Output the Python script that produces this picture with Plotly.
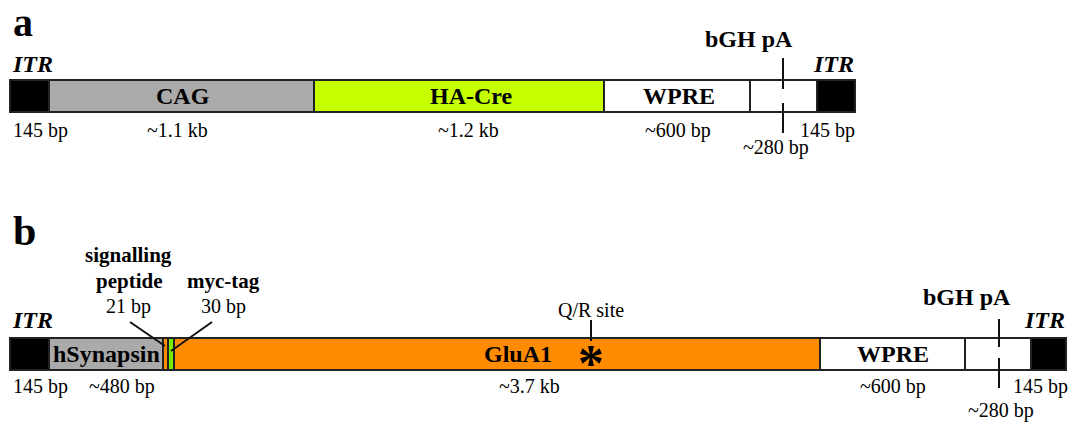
import numpy as np
import plotly.graph_objects as go

# ---------------- data ----------------
# Panel a: AAV-CAG-HA-Cre construct (segment display lengths, arbitrary units)
a_names = ["ITR", "CAG", "HA-Cre", "WPRE", "bGH pA", "ITR"]
a_lengths = [39, 265, 290, 146, 67, 38]
a_sizes = ["145 bp", "~1.1 kb", "~1.2 kb", "~600 bp", "~280 bp", "145 bp"]

# Panel b: AAV-hSynapsin-GluA1 construct
b_names = ["ITR", "hSynapsin", "signalling peptide", "myc-tag", "GluA1", "WPRE", "bGH pA", "ITR"]
b_lengths = [39, 114, 5, 6, 646, 145, 66, 35]
b_sizes = ["145 bp", "~480 bp", "21 bp", "30 bp", "~3.7 kb", "~600 bp", "~280 bp", "145 bp"]

# ---------------- styles ----------------
a_colors = ["#000000", "#aaaaaa", "#c6ff00", "#ffffff", "#ffffff", "#000000"]
b_colors = ["#000000", "#aaaaaa", "#ff8c00", "#77ee00", "#ff8c00", "#ffffff", "#ffffff", "#000000"]
FONT = "Liberation Serif"
X0 = 10
A_Y, B_Y, BAR_H = 96, 354, 32

fig = go.Figure()

def add_bars(lengths, colors, yc):
    starts = X0 + np.concatenate([[0], np.cumsum(lengths)[:-1]])
    fig.add_trace(go.Bar(
        orientation="h", base=starts, x=lengths, y=[yc] * len(lengths),
        width=[BAR_H] * len(lengths),
        marker=dict(color=colors, line=dict(color="#222222", width=2)),
        hoverinfo="skip", showlegend=False))
    return starts

a_starts = add_bars(a_lengths, a_colors, A_Y)
b_starts = add_bars(b_lengths, b_colors, B_Y)

def seg(x, y, w=2):
    fig.add_trace(go.Scatter(x=x, y=y, mode="lines",
                             line=dict(color="#111111", width=w),
                             hoverinfo="skip", showlegend=False))

# bGH pA marker lines (with gap)
seg([783, 783], [58, 89]); seg([783, 783], [103, 133])
seg([999, 999], [319, 347]); seg([999, 999], [358, 388])
# Q/R site
seg([591, 591], [320, 341])
# callouts
seg([130, 165], [322, 346]); seg([212, 171], [322, 351])

def txt(x, y, s, size=20, bold=False, italic=False, xa="center", yshift=0):
    fig.add_annotation(x=x, y=y, text=s, showarrow=False, xanchor=xa, yanchor="middle",
                       yshift=yshift,
                       font=dict(family=FONT, size=size, color="#000000",
                                 weight="bold" if bold else "normal",
                                 style="italic" if italic else "normal"))

# panel a
txt(11, 22, "a", size=40, bold=True, xa="left")
txt(10, 64, "ITR", size=24, bold=True, italic=True, xa="left")
txt(856, 64, "ITR", size=24, bold=True, italic=True, xa="right")
txt(749, 39, "bGH pA", size=24, bold=True)
txt(183, A_Y, a_names[1], size=24, bold=True)
txt(471, A_Y, a_names[2], size=24, bold=True)
txt(679, A_Y, a_names[3], size=24, bold=True)
txt(40, 130, a_sizes[0]); txt(177, 130, a_sizes[1]); txt(468, 130, a_sizes[2])
txt(678, 130, a_sizes[3]); txt(776, 147, a_sizes[4]); txt(827, 130, a_sizes[5])

# panel b
txt(11, 231, "b", size=42, bold=True, xa="left")
txt(10, 320, "ITR", size=24, bold=True, italic=True, xa="left")
txt(1067, 320, "ITR", size=24, bold=True, italic=True, xa="right")
txt(967, 297, "bGH pA", size=24, bold=True)
txt(128, 255, "signalling", size=21, bold=True)
txt(129, 281, "peptide", size=21, bold=True)
txt(128, 306, b_sizes[2])
txt(223, 281, b_names[3], size=21, bold=True)
txt(223, 306, b_sizes[3])
txt(106, B_Y, b_names[1], size=24, bold=True)
txt(518, B_Y, b_names[4], size=24, bold=True)
txt(893, B_Y, b_names[5], size=24, bold=True)
txt(591, 310, "Q/R site")
txt(591, 356, "*", size=52, bold=True, yshift=-7)
txt(40, 386, b_sizes[0]); txt(122, 386, b_sizes[1]); txt(529, 386, b_sizes[4])
txt(893, 386, b_sizes[5]); txt(1001, 410, b_sizes[6]); txt(1040, 386, b_sizes[7])

fig.update_layout(
    width=1071, height=423, margin=dict(l=0, r=0, t=0, b=0),
    plot_bgcolor="white", paper_bgcolor="white", barmode="overlay",
    xaxis=dict(range=[0, 1071], visible=False, fixedrange=True),
    yaxis=dict(range=[423, 0], visible=False, fixedrange=True),
)
fig.write_html("out.html", config={"displayModeBar": False},
               post_script="document.body.style.margin='0';document.body.style.overflow='hidden';")
